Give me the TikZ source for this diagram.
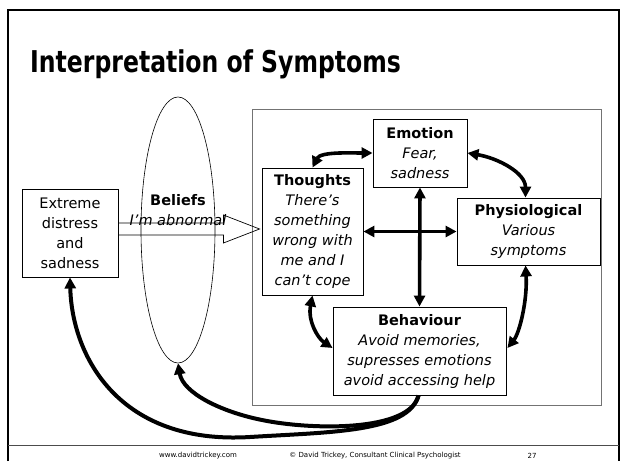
\documentclass[tikz,border=0pt]{standalone}
\usepackage{fontspec}
\setmainfont{DejaVu Sans}
\usetikzlibrary{arrows.meta,shapes.geometric,calc}
\begin{document}
\begin{tikzpicture}[x=1pt,y=-1pt,
  box/.style={draw=black,line width=0.9pt,fill=white,align=center,inner sep=0pt,font=\fontsize{14.5}{20}\selectfont},
  tipx/.tip={Triangle[length=11pt,width=11pt]},
  dbl/.style={line width=3.6pt,tipx-tipx},
  sgl/.style={line width=4pt,-tipx},
  hollow/.style={draw=black,line width=0.7pt,line join=miter},
  foot/.style={font=\fontsize{7}{8}\selectfont,inner sep=0pt}
]
\useasboundingbox (0,0) rectangle (621,461);
\fill[white] (0,0) rectangle (621,461);
% slide frame
\draw[line width=2.5pt] (8,461) -- (8,10) -- (619,10) -- (619,461);
\draw[line width=0.8pt,black!70] (8,445) -- (619,445);
% title
\node[anchor=base west,inner sep=0pt,font=\fontsize{30}{36}\selectfont\bfseries] (title) at (30,72) {\scalebox{0.785}[1]{Interpretation of Symptoms}};
% grey frame
\draw[line width=1pt,black!55] (252,109) rectangle (601,405);
% beliefs ellipse
\node[draw,ellipse,line width=0.6pt,minimum width=74pt,minimum height=266pt,inner sep=0pt] (beliefs) at (178,230) {};
% nodes
\node[box,minimum width=96pt,minimum height=88pt] (distress) at (70,233) {Extreme\\distress\\and\\sadness};
\node[box,minimum width=94pt,minimum height=68pt] (emotion) at (420,153) {\textbf{Emotion}\\\textit{Fear,}\\\textit{sadness}};
\node[box,minimum width=101pt,minimum height=127pt] (thoughts) at (312.5,231.5) {\textbf{Thoughts}\\\textit{There’s}\\\textit{something}\\\textit{wrong with}\\\textit{me and I}\\\textit{can’t cope}};
\node[box,minimum width=143pt,minimum height=67pt] (physio) at (528.5,231.5) {\textbf{Physiological}\\\textit{Various}\\\textit{symptoms}};
\node[box,minimum width=173pt,minimum height=88pt] (behaviour) at (419.5,351) {\textbf{Behaviour}\\\textit{Avoid memories,}\\\textit{supresses emotions}\\\textit{avoid accessing help}};
% hollow arrow
\draw[hollow] ($(distress.east)+(0,-10)$) -- ++(105,0) -- ++(0,-8) -- ($(thoughts.west)+(-2,-2.5)$) -- ($(distress.east)+(105,10)$) -- ++(0,-8) -- ($(distress.east)+(0,2)$);
\node[align=center,inner sep=0pt,font=\fontsize{14.5}{20}\selectfont] (belieftxt) at (178,210) {\textbf{Beliefs}\\\textit{I’m abnormal}};
% double arrows
\draw[dbl] (thoughts.north) .. controls +(8,-16) and +(-22,0) .. (emotion.west);
\draw[dbl] (emotion.east) .. controls +(30,5) and +(0,-25) .. ($(physio.north)+(-3,0)$);
\draw[dbl] ($(physio.south)+(-3,0)$) .. controls +(2,35) and +(12,-15) .. ($(behaviour.east)+(1,-3)$);
\draw[dbl] (thoughts.south) .. controls +(-5,25) and +(-15,-10) .. ($(behaviour.west)+(0,-3)$);
\draw[dbl] (emotion.south) -- (behaviour.north);
\draw[dbl] (thoughts.east) -- (physio.west);
% loops back
\draw[sgl] ($(behaviour.south)+(-1,0)$) .. controls +(-10,37) and +(80,-5) .. (250,437) .. controls +(-130,8) and +(2,80) .. (distress.south);
\draw[sgl] ($(behaviour.south)+(-1,0)$) .. controls +(-9,37) and +(48,10) .. (262,420) .. controls +(-40,-8) and +(5,30) .. (beliefs.south);
% footer
\node[foot] (url) at (198,456) {www.davidtrickey.com};
\node[foot] (copy) at (375,456) {© David Trickey, Consultant Clinical Psychologist};
\node[foot] (page) at (532,456) {27};
\end{tikzpicture}
\end{document}
